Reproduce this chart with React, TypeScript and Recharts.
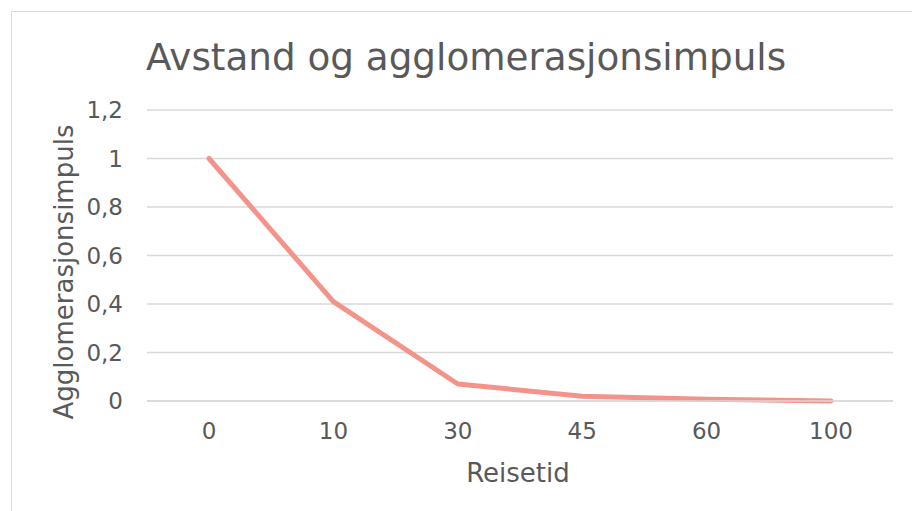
import { LineChart, Line, XAxis, YAxis, CartesianGrid } from 'recharts';

const categories = ['0', '10', '30', '45', '60', '100'];
const impulse = [1, 0.41, 0.07, 0.02, 0.007, 0];
const yTicks = [0, 0.2, 0.4, 0.6, 0.8, 1, 1.2];

const title = 'Avstand og agglomerasjonsimpuls';
const xTitle = 'Reisetid';
const yTitle = 'Agglomerasjonsimpuls';

const data = categories.map((c, i) => ({ reisetid: c, verdi: impulse[i] }));

const FONT = '"DejaVu Sans", Verdana, sans-serif';
const TEXT = '#595959';
const GRID = '#D9D9D9';

export default function App() {
    return (
        <div
            style={{
                position: 'fixed',
                top: 0,
                left: 0,
                width: 912,
                height: 511,
                background: '#fff',
                overflow: 'hidden',
                fontFamily: FONT,
            }}
        >
            <div
                style={{
                    position: 'absolute',
                    left: 11,
                    top: 11,
                    width: 940,
                    height: 540,
                    border: `1px solid ${GRID}`,
                }}
            />
            <div style={{ position: 'absolute', left: 0, top: 0 }}>
                <LineChart
                    width={912}
                    height={511}
                    data={data}
                    margin={{ top: 110, right: 19, bottom: 70, left: 87 }}
                >
                    <CartesianGrid vertical={false} stroke={GRID} strokeWidth={1.5} />
                    <XAxis
                        dataKey="reisetid"
                        height={40}
                        padding={{ left: 62, right: 62 }}
                        axisLine={{ stroke: GRID, strokeWidth: 1.5 }}
                        tickLine={false}
                        tickSize={6}
                        tickMargin={16}
                        tick={{ fill: TEXT, fontSize: 23, fontFamily: FONT }}
                    />
                    <YAxis
                        width={60}
                        domain={[0, 1.2]}
                        ticks={yTicks}
                        axisLine={false}
                        tickLine={false}
                        tickSize={6}
                        tickMargin={18}
                        tick={{ fill: TEXT, fontSize: 23, fontFamily: FONT }}
                        tickFormatter={(v: number) => String(v).replace('.', ',')}
                    />
                    <Line
                        type="linear"
                        dataKey="verdi"
                        stroke="#F4938A"
                        strokeWidth={5}
                        strokeLinecap="round"
                        strokeLinejoin="round"
                        dot={false}
                        activeDot={false}
                        isAnimationActive={false}
                    />
                </LineChart>
            </div>
            <svg
                width={912}
                height={511}
                style={{ position: 'absolute', left: 0, top: 0, pointerEvents: 'none' }}
            >
                <text x={146} y={70} fill={TEXT} fontSize={37.3} fontFamily={FONT}>
                    {title}
                </text>
                <text x={518} y={482} fill={TEXT} fontSize={26} fontFamily={FONT} textAnchor="middle">
                    {xTitle}
                </text>
                <text
                    x={73}
                    y={272}
                    fill={TEXT}
                    fontSize={26}
                    fontFamily={FONT}
                    textAnchor="middle"
                    transform="rotate(-90 73 272)"
                >
                    {yTitle}
                </text>
            </svg>
        </div>
    );
}
